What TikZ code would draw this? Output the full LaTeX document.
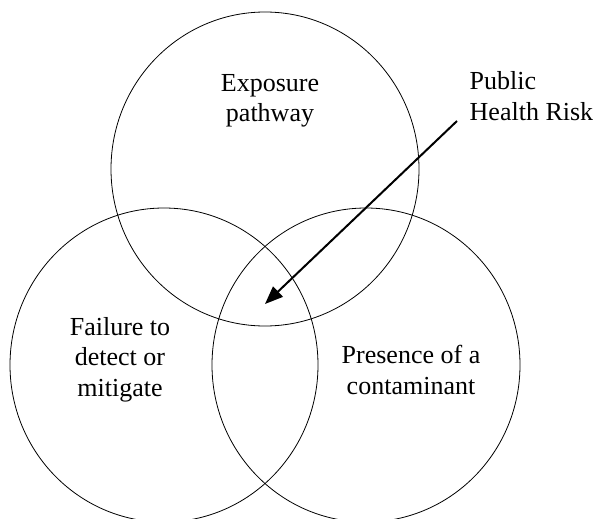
\documentclass[tikz,border=0pt]{standalone}
\usepackage{fontspec}
\setmainfont{Liberation Serif}
\usetikzlibrary{arrows.meta}
\begin{document}
\begin{tikzpicture}[x=1pt,y=-1pt,
  ring/.style={draw=black,line width=0.8pt},
  lbl/.style={inner sep=0pt,font=\fontsize{26pt}{30.5pt}\selectfont},
  pointer/.style={draw=black,line width=2pt,-{Triangle[length=18pt,width=14pt]}}]
\useasboundingbox (0,0) rectangle (597,519);
\clip (0,0) rectangle (597,519);
\fill[white] (0,0) rectangle (597,519);
\draw[ring] (265,169) ellipse [x radius=154pt, y radius=157pt];
\draw[ring] (164,365) ellipse [x radius=154pt, y radius=157pt];
\draw[ring] (366,365) ellipse [x radius=154pt, y radius=157pt];
\node[lbl,align=center,anchor=base] (expo) at (270,121.5) {Exposure\\pathway};
\node[lbl,align=left,anchor=base west] (phr) at (469.5,120) {Public\\Health Risk};
\node[lbl,align=center,anchor=base] (fail) at (120,396) {Failure to\\detect or\\mitigate};
\node[lbl,align=center,anchor=base] (pres) at (411,394) {Presence of a\\contaminant};
\coordinate (arrstart) at (457,121);
\coordinate (arrend) at (265,304);
\draw[pointer] (arrstart) -- (arrend);
\end{tikzpicture}
\end{document}
